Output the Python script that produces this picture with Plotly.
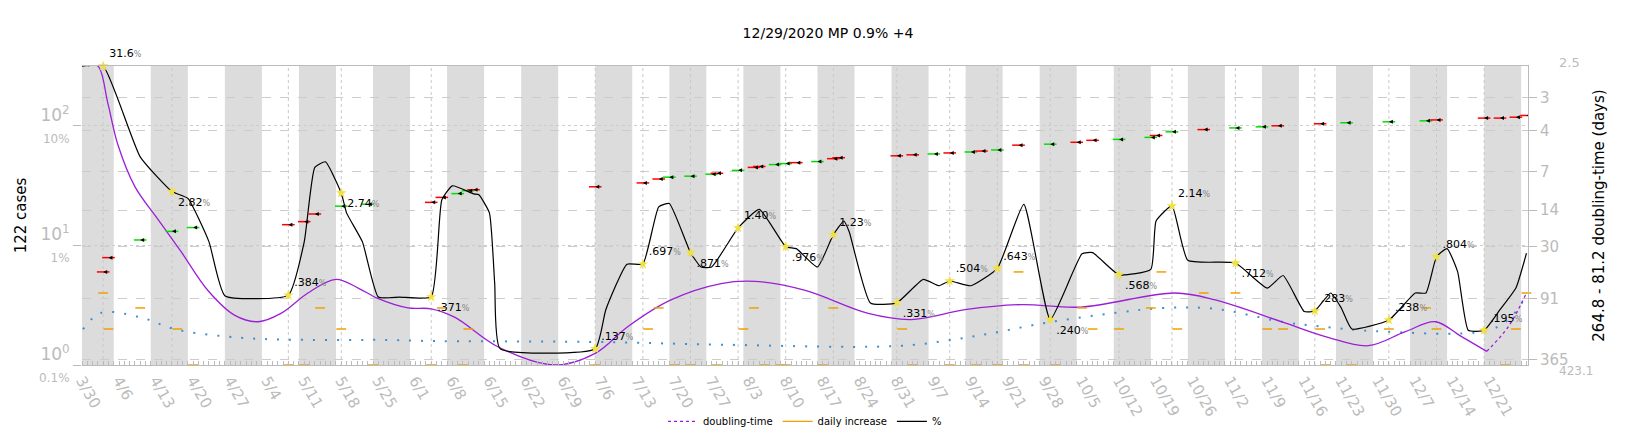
import plotly.graph_objects as go
import pandas as pd

BASE = pd.Timestamp("2020-03-30")
def D(days):
    return [BASE + pd.Timedelta(days=float(d)) for d in days]

title_text = "12/29/2020 MP 0.9% +4"

# growth rate % (black), days since 3/30
pct_days = [0,4,11,17,20,24,27,39,42,44,46,49,50,53,56,60,66,68,70,74,75,77,78,79,97,99,103,106,109,111,115,117,119,124,128,133,135,139,142,144,145,149,154,159,162,164,168,173,178,183,189,191,196,202,203,206,209,218,224,227,231,233,236,238,240,247,252,254,256,258,260,262,265,268,271,273]
pct_vals = [31.6,31.6,5.5,2.82,2.47,1.07,0.38,0.384,1.07,4.5,5.0,2.74,1.87,1.07,0.37,0.37,0.371,2.4,3.15,2.7,2.65,1.87,0.48,0.137,0.137,0.29,0.697,0.697,2.1,2.24,0.871,0.66,0.66,1.40,2.0,0.976,0.94,0.66,1.23,1.6,1.3,0.33,0.331,0.52,0.46,0.504,0.46,0.643,2.2,0.240,0.85,0.87,0.568,0.63,1.6,2.14,0.75,0.712,0.44,0.56,0.28,0.283,0.4,0.3,0.2,0.238,0.4,0.4,0.804,0.94,0.6,0.195,0.195,0.29,0.44,0.86]

# labelled points
star_days = [4,17,39,49,66,97,106,115,124,133,142,154,164,173,183,196,206,218,233,247,256,265]
star_vals = [31.6,2.82,0.384,2.74,0.371,0.137,0.697,0.871,1.40,0.976,1.23,0.331,0.504,0.643,0.240,0.568,2.14,0.712,0.283,0.238,0.804,0.195]
star_text = ["31.6","2.82",".384","2.74",".371",".137",".697",".871","1.40",".976","1.23",".331",".504",".643",".240",".568","2.14",".712",".283",".238",".804",".195"]
star_pos = ["top right","bottom right","top right","bottom right","bottom right","top right","top right","bottom right","top right","bottom right","top right","bottom right","top right","top right","bottom right","bottom right","top right","bottom right","top right","top right","top right","top right"]

# purple smoothed curve (cases)
dbl_days = [1.1,3,4.9,6.8,10,14.4,18.7,23.8,28.9,33.3,37.6,42.7,48,52.2,55.9,61.6,66,70.5,78.6,89.4,97,103.2,111.3,120.8,127.2,136.7,148.6,156.7,166.9,177.5,188.8,206.6,214.2,226.7,235.5,243.1,250.1,255.8,260.5,265.5]
dbl_vals = [316,316,153,69,31,16.4,8.9,4.2,2.6,2.3,2.7,4.0,5.2,4.4,3.6,3.0,2.95,2.5,1.42,1.0,1.25,2.1,3.5,4.8,5.0,4.2,2.7,2.4,2.9,3.2,3.05,4.0,3.5,2.3,1.7,1.45,1.9,2.3,1.75,1.3]
proj_days = [265.5,269.6,273]
proj_vals = [1.3,2.1,4.0]

# blue dotted
blue_days = [0.2,3.6,11.2,17.6,30,42.7,57.8,64.8,95.7,120.8,148.6,157.5,170,182.6,195.3,204.7,214.2,226.7,235.5,244.4,265.2,269.6,272.8]
blue_vals = [1.99,2.73,2.49,1.99,1.69,1.62,1.62,1.59,1.56,1.48,1.42,1.48,1.78,2.27,2.73,3.0,2.95,2.3,2.07,1.92,1.92,2.4,3.68]

# daily increase
inc_days = [4,5,11,18,21,39,42,45,49,55,66,68,72,73,97,107,109,112,115,120,125,127,129,132,133,140,142,155,157,164,169,173,177,178,184,189,191,196,202,204,207,212,218,224,227,234,235,240,247,254,256,269,271,273]
inc_vals = [4,2,3,2,1,1,1,3,2,1,1,3,1,2,1,2,3,1,1,1,2,3,1,1,1,1,3,2,1,1,1,1,6,1,1,3,2,2,3,6,2,4,4,2,2,2,1,1,2,3,2,1,2,4]

# arrows
arr_days = [4,5,11,17,21,39,42,44,49,54,66,68,71,73,74,97,106,109,111,115,119,120,124,127,128,131,133,135,139,142,143,154,157,161,164,168,170,173,177,183,188,191,196,202,203,206,212,218,223,226,234,239,247,254,256,265,268,271,273]
arr_vals = [6.0,7.9,11.1,13.1,14.1,14.9,15.8,18.3,21.3,22.1,22.9,25.2,27.1,28.7,29.2,30.9,33.3,35.9,37.2,37.9,39.4,40.1,42.4,44.9,45.7,47.4,48.3,49.2,50.2,53.1,54.1,56.1,57.2,58.2,59.3,60.4,61.5,62.8,68.9,70.2,72.8,75.6,77.0,80,83,89,93,96,98,100,104,106,108,110,112,116,116,118,122]
arr_dir = list("RRGGGRRRGGRRGGRRRRGGGRGRRGGRGRRRRGRGRGRGRRGGRGRGGRRGGGRRRRR")

right_ticks = ["3","4","7","14","30","91","365"]
right_pos = [0.893,0.783,0.647,0.518,0.395,0.223,0.019]

week_ticks = pd.date_range("2020-03-30", "2020-12-21", freq="7D")

fig = go.Figure()
GRAY = "#bbbbbb"

fig.add_trace(go.Scatter(x=D(blue_days), y=blue_vals, mode="lines", line_shape="spline",
    line=dict(color="#3a8fd0", dash="2px,10px", width=2), showlegend=False))
fig.add_trace(go.Scatter(x=D(dbl_days), y=dbl_vals, mode="lines", line_shape="spline",
    line=dict(color="#9b1fd6", width=1.3), showlegend=False))
fig.add_trace(go.Scatter(x=D(proj_days), y=proj_vals, mode="lines", line_shape="spline",
    line=dict(color="#9b1fd6", width=1.3, dash="dot"), name="doubling-time"))
fig.add_trace(go.Scatter(x=D(inc_days), y=inc_vals, mode="markers", cliponaxis=False,
    marker=dict(symbol="line-ew", size=7, line=dict(color="#f0a000", width=1.5)), showlegend=False))
fig.add_trace(go.Scatter(x=[None], y=[None], mode="lines", line=dict(color="#f0a000", width=1.3), name="daily increase"))
colors = ["#ff0000" if c == "R" else "#00e000" for c in arr_dir]
fig.add_trace(go.Scatter(x=D(arr_days), y=arr_vals, mode="markers",
    marker=dict(symbol="line-ew", size=9, line=dict(color=colors, width=1.5)), showlegend=False))
fig.add_trace(go.Scatter(x=D(arr_days), y=arr_vals, mode="markers",
    marker=dict(symbol="arrow-left", size=4, color="black"), showlegend=False))
fig.add_trace(go.Scatter(x=D(pct_days), y=[v * 10 for v in pct_vals], mode="lines", line_shape="spline",
    line=dict(color="black", width=1.2, smoothing=0.45), name="%"))
fig.add_trace(go.Scatter(x=D(star_days), y=[v * 10 for v in star_vals], mode="markers+text",
    marker=dict(symbol="star", size=8, color="#f0e040"),
    text=[t + "<span style='font-size:8px;color:#888'>%</span>" for t in star_text],
    textposition=star_pos, textfont=dict(size=11, color="black"), showlegend=False, cliponaxis=False))
fig.add_trace(go.Scatter(x=[None], y=[None], yaxis="y2", showlegend=False))

shapes = []
s = pd.Timestamp("2020-03-29")
end = pd.Timestamp("2020-12-28 07:00")
while s < end:
    shapes.append(dict(type="rect", xref="x", yref="paper", x0=max(s, BASE), x1=min(s + pd.Timedelta(days=7), end),
                       y0=0, y1=1, fillcolor="#dcdcdc", line_width=0, layer="below"))
    s += pd.Timedelta(days=14)
for d in star_days:
    shapes.append(dict(type="line", xref="x", yref="paper", x0=D([d])[0], x1=D([d])[0], y0=0, y1=1,
                       line=dict(color="#c8c8c8", width=1, dash="dot"), layer="below"))

fig.update_layout(
    width=1640, height=440, plot_bgcolor="white", paper_bgcolor="white",
    margin=dict(l=74, r=120, t=58, b=73),
    title=dict(text=title_text, x=0.5, xanchor="center", y=0.955, font=dict(size=14, color="black")),
    font=dict(family="DejaVu Sans"),
    shapes=shapes,
    xaxis=dict(range=[BASE, end], tickvals=list(week_ticks), tickformat="%-m/%-d", tickangle=60, automargin=False,
               tickfont=dict(size=15, color=GRAY), showgrid=False, showline=True, linecolor=GRAY, mirror=True,
               ticks="", minor=dict(dtick=86400000, ticks="inside", ticklen=4, tickcolor=GRAY, showgrid=False)),
    yaxis=dict(type="log", range=[0, 2.5], tickvals=[1, 10, 100], automargin=False,
               ticktext=["10<sup>0</sup><br><span style='font-size:12px'>0.1%</span>",
                         "10<sup>1</sup><br><span style='font-size:12px'>1%</span>",
                         "10<sup>2</sup><br><span style='font-size:12px'>10%</span>"],
               tickfont=dict(size=17, color=GRAY), showgrid=True, gridcolor="#cccccc", griddash="dot",
               ticks="outside", ticklen=8, tickcolor=GRAY, zeroline=False,
               title=dict(text="122 cases", font=dict(size=15, color="black"), standoff=8)),
    yaxis2=dict(overlaying="y", side="right", range=[0, 1], tickvals=right_pos, ticktext=right_ticks, automargin=False,
                tickfont=dict(size=15, color=GRAY), ticks="outside", ticklen=8, tickcolor=GRAY,
                showgrid=True, gridcolor="#cccccc", griddash="dash", zeroline=False,
                showline=True, linecolor=GRAY,
                title=dict(text="264.8 - 81.2 doubling-time (days)", font=dict(size=15, color="black"), standoff=25)),
    legend=dict(orientation="h", x=0.5, xanchor="center", y=-0.14, yanchor="top", font=dict(size=10, color="black"),
                bgcolor="rgba(0,0,0,0)"),
    annotations=[
        dict(text="2.5", xref="paper", yref="paper", x=1.02, y=1.045, showarrow=False, xanchor="left", font=dict(size=13, color=GRAY)),
        dict(text="423.1", xref="paper", yref="paper", x=1.02, y=-0.05, showarrow=False, xanchor="left", font=dict(size=12, color=GRAY)),
    ],
)
fig.write_html("out.html")
